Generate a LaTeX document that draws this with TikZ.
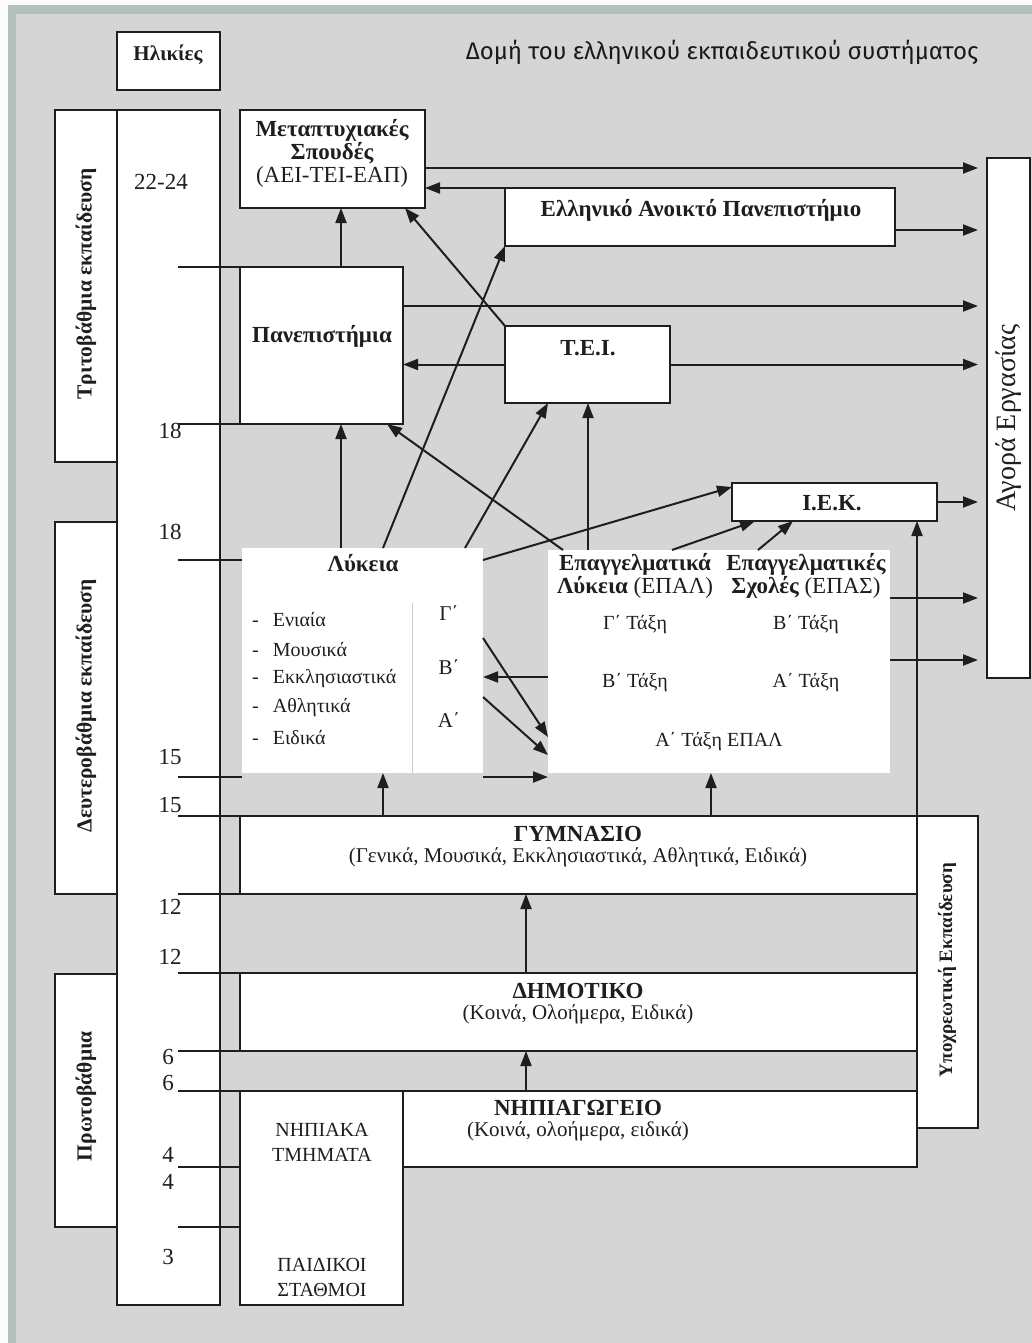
\documentclass[tikz,border=0pt]{standalone}
\usepackage{fontspec}
\setmainfont{Liberation Serif}
\newfontfamily\titlefont{Fira Sans}
\usetikzlibrary{arrows.meta}
\definecolor{bg}{HTML}{D5D5D5}
\definecolor{frame}{HTML}{B3C0BD}
\definecolor{ink}{HTML}{1E1E1E}
\tikzset{
 box/.style={draw=ink, line width=2pt, fill=white, inner sep=0pt, outer sep=0pt, anchor=north west},
 wbox/.style={fill=white, inner sep=0pt, outer sep=0pt, anchor=north west},
 arr/.style={draw=ink, line width=2pt, -{Triangle[length=15pt,width=11pt]}},
 ln/.style={draw=ink, line width=2pt},
 lbl/.style={inner sep=0pt, font=\fontsize{23}{23}\selectfont\bfseries, text=ink, align=center},
 txt/.style={inner sep=0pt, font=\fontsize{21}{23}\selectfont, text=ink, align=center},
 sml/.style={inner sep=0pt, font=\fontsize{20}{22}\selectfont, text=ink, align=center},
 age/.style={inner sep=0pt, font=\fontsize{23}{24}\selectfont, text=ink},
}
\begin{document}
\begin{tikzpicture}[x=1pt,y=-1pt]
\useasboundingbox (0,0) rectangle (1032,1343);
\fill[bg] (0,0) rectangle (1032,1343);
\fill[white!90!bg] (0,0) rectangle (1032,5);
\fill[white!90!bg] (0,0) rectangle (8,1343);
\fill[frame] (8,5) rectangle (1032,14);
\fill[frame] (8,5) rectangle (16,1343);

% title
\node[inner sep=0pt, font=\titlefont\fontsize{24}{26}\selectfont, text=black!90] (title) at (722,52) {Δομή του ελληνικού εκπαιδευτικού συστήματος};

% left columns
\node[box,minimum width=103pt,minimum height=58pt] (hl) at (117,32) {};
\node[lbl,font=\fontsize{21}{23}\selectfont\bfseries] (hlT) at (168,55) {Ηλικίες};
\node[box,minimum width=103pt,minimum height=1195pt] (ages) at (117,110) {};
\node[box,minimum width=62pt,minimum height=352pt] (tri) at (55,110) {};
\node[box,minimum width=62pt,minimum height=372pt] (deu) at (55,522) {};
\node[box,minimum width=62pt,minimum height=253pt] (pro) at (55,974) {};
\node[lbl,rotate=90,font=\fontsize{21.5}{23}\selectfont\bfseries] (triT) at (86,284) {Τριτοβάθμια εκπαίδευση};
\node[lbl,rotate=90,font=\fontsize{21.5}{23}\selectfont\bfseries] (deuT) at (86,706) {Δευτεροβάθμια εκπαίδευση};
\node[lbl,rotate=90,font=\fontsize{21.5}{23}\selectfont\bfseries] (proT) at (86,1096) {Πρωτοβάθμια};

% boxes
\node[box,minimum width=185pt,minimum height=98pt] (met) at (240,110) {};
\node[box,minimum width=163pt,minimum height=157pt] (pan) at (240,267) {};
\node[box,minimum width=390pt,minimum height=58pt] (eap) at (505,188) {};
\node[box,minimum width=165pt,minimum height=77pt] (tei) at (505,326) {};
\node[box,minimum width=205pt,minimum height=38pt] (iek) at (732,483) {};
\node[box,minimum width=43pt,minimum height=520pt] (agora) at (987,158) {};
\node[wbox,minimum width=241pt,minimum height=225pt] (lyk) at (242,548) {};
\node[wbox,minimum width=342pt,minimum height=223pt] (epal) at (548,550) {};
\node[box,minimum width=61pt,minimum height=312pt] (ypo) at (917,816) {};
\node[box,minimum width=677pt,minimum height=78pt] (gym) at (240,816) {};
\node[box,minimum width=677pt,minimum height=78pt] (dim) at (240,973) {};
\node[box,minimum width=163pt,minimum height=214pt] (nipk) at (240,1091) {};
\node[box,minimum width=514pt,minimum height=76pt] (nipg) at (403,1091) {};

\draw[black!20, line width=1pt] (lyk.north -| 412,0) ++(0,55) -- (lyk.south -| 412,0);

% labels in boxes
\node[lbl] (metT) at (332,153) {Μεταπτυχιακές\\Σπουδές\\{\mdseries (ΑΕΙ-ΤΕΙ-ΕΑΠ)}};
\node[lbl] (panT) at (322,336) {Πανεπιστήμια};
\node[lbl] (eapT) at (701,210) {Ελληνικό Ανοικτό Πανεπιστήμιο};
\node[lbl] (teiT) at (588,348) {Τ.Ε.Ι.};
\node[lbl] (iekT) at (832,503) {Ι.Ε.Κ.};
\node[txt,rotate=90,font=\fontsize{28}{30}\selectfont] (agoraT) at (1009,418) {Αγορά Εργασίας};
\node[lbl,rotate=90,font=\fontsize{19}{21}\selectfont\bfseries] (ypoT) at (947,970) {Υποχρεωτική Εκπαίδευση};

\node[lbl] (lykT) at (363,563) {Λύκεια};
\node[sml,anchor=west] (l1) at (252,620) {-\hspace{14pt}Ενιαία};
\node[sml,anchor=west] (l2) at (252,650) {-\hspace{14pt}Μουσικά};
\node[sml,anchor=west] (l3) at (252,679) {-\hspace{14pt}Εκκλησιαστικά};
\node[sml,anchor=west] (l4) at (252,708) {-\hspace{14pt}Αθλητικά};
\node[sml,anchor=west] (l5) at (252,738) {-\hspace{14pt}Ειδικά};
\node[txt] (gG) at (449,613) {Γ΄};
\node[txt] (gB) at (449,667) {Β΄};
\node[txt] (gA) at (449,720) {Α΄};

\node[lbl] (epalT) at (635,576) {Επαγγελματικά\\Λύκεια {\mdseries (ΕΠΑΛ)}};
\node[lbl] (epasT) at (806,576) {Επαγγελματικές\\Σχολές {\mdseries (ΕΠΑΣ)}};
\node[sml] (e1) at (635,625) {Γ΄ Τάξη};
\node[sml] (e2) at (806,625) {Β΄ Τάξη};
\node[sml] (e3) at (635,683) {Β΄ Τάξη};
\node[sml] (e4) at (806,683) {Α΄ Τάξη};
\node[sml] (e5) at (719,742) {Α΄ Τάξη ΕΠΑΛ};

\node[lbl] (gymT) at (578,834) {ΓΥΜΝΑΣΙΟ};
\node[txt] (gymS) at (578,857) {(Γενικά, Μουσικά, Εκκλησιαστικά, Αθλητικά, Ειδικά)};
\node[lbl] (dimT) at (578,991) {ΔΗΜΟΤΙΚΟ};
\node[txt] (dimS) at (578,1014) {(Κοινά, Ολοήμερα, Ειδικά)};
\node[lbl] (nipgT) at (578,1108) {ΝΗΠΙΑΓΩΓΕΙΟ};
\node[txt] (nipgS) at (578,1131) {(Κοινά, ολοήμερα, ειδικά)};
\node[txt,font=\fontsize{20}{25}\selectfont] (nipkT) at (322,1142) {ΝΗΠΙΑΚΑ\\ΤΜΗΜΑΤΑ};
\node[txt,font=\fontsize{20}{25}\selectfont] (nipkS) at (322,1277) {ΠΑΙΔΙΚΟΙ\\ΣΤΑΘΜΟΙ};

% ages
\node[age] (g1) at (161,182) {22-24};
\node[age] (g2) at (170,431) {18};
\node[age] (g3) at (170,532) {18};
\node[age] (g4) at (170,757) {15};
\node[age] (g5) at (170,805) {15};
\node[age] (g6) at (170,907) {12};
\node[age] (g7) at (170,957) {12};
\node[age] (g8) at (168,1057) {6};
\node[age] (g9) at (168,1083) {6};
\node[age] (g10) at (168,1155) {4};
\node[age] (g11) at (168,1182) {4};
\node[age] (g12) at (168,1257) {3};

% age lines
\coordinate (a1) at (178,267);
\coordinate (a2) at (178,424);
\coordinate (a3) at (178,560);
\coordinate (a4) at (178,777);
\coordinate (a5) at (178,816);
\coordinate (a6) at (178,894);
\coordinate (a7) at (178,973);
\coordinate (a8) at (178,1051);
\coordinate (a9) at (178,1091);
\coordinate (a10) at (178,1167);
\coordinate (a11) at (178,1227);
\draw[ln] (a1) -- (pan.north west);
\draw[ln] (a2) -- (pan.south west);
\draw[ln] (a3) -- (lyk.west |- a3);
\draw[ln] (a4) -- (lyk.west |- a4);
\draw[ln] (a5) -- (gym.north west);
\draw[ln] (a6) -- (gym.south west);
\draw[ln] (a7) -- (dim.north west);
\draw[ln] (a8) -- (dim.south west);
\draw[ln] (a9) -- (nipk.north west);
\draw[ln] (a10) -- (nipk.west |- a10);
\draw[ln] (a11) -- (nipk.west |- a11);

% arrows to labour market
\draw[arr, shorten >=9pt] (met.east |- 0,168) -- (agora.west |- 0,168);
\draw[arr, shorten >=9pt] (eap.east |- 0,230) -- (agora.west |- 0,230);
\draw[arr, shorten >=9pt] (pan.east |- 0,306) -- (agora.west |- 0,306);
\draw[arr, shorten >=9pt] (tei.east) -- (agora.west |- tei.east);
\draw[arr, shorten >=9pt] (iek.east) -- (agora.west |- iek.east);
\draw[arr, shorten >=9pt] (epal.east |- 0,598) -- (agora.west |- 0,598);
\draw[arr, shorten >=9pt] (epal.east |- 0,660) -- (agora.west |- 0,660);

% tertiary
\draw[arr] (eap.north west) -- (met.east |- eap.north west);
\draw[arr] (tei.west) -- (pan.east |- tei.west);
\draw[arr] (pan.north -| 341,0) -- (met.south -| 341,0);
\draw[arr] (tei.north west) -- (met.south -| 405,0);

% from secondary
\draw[arr] (lyk.north -| 383,0) -- (eap.south west);
\draw[arr] (lyk.north -| 465,0) -- (tei.south -| 548,0);
\draw[arr] (lyk.north -| 341,0) -- (pan.south -| 341,0);
\draw[arr] (epal.north -| 563,0) -- (pan.south -| 387,0);
\draw[arr] (epal.north -| 588,0) -- (tei.south -| 588,0);
\draw[arr] (lyk.north east |- 0,560) -- (iek.north west |- 0,487);
\draw[arr] (epal.north -| 672,0) -- (iek.south -| 755,0);
\draw[arr] (epal.north -| 758,0) -- (iek.south -| 793,0);
\draw[arr] (ypo.south west) -- (iek.south -| ypo.south west);

% between lyceum and EPAL
\draw[arr] (lyk.east |- 0,638) -- (epal.west |- 0,737);
\draw[arr] (lyk.east |- 0,697) -- (epal.west |- 0,755);
\draw[arr] (epal.west |- 0,677) -- (lyk.east |- 0,677);
\draw[arr] (lyk.south east |- 0,777) -- (epal.west |- 0,777);

% lower levels
\draw[arr] (gym.north -| 383,0) -- (lyk.south -| 383,0);
\draw[arr] (gym.north -| 711,0) -- (epal.south -| 711,0);
\draw[arr] (dim.north -| 526,0) -- (gym.south -| 526,0);
\draw[arr] (nipg.north -| 526,0) -- (dim.south -| 526,0);
\end{tikzpicture}
\end{document}
